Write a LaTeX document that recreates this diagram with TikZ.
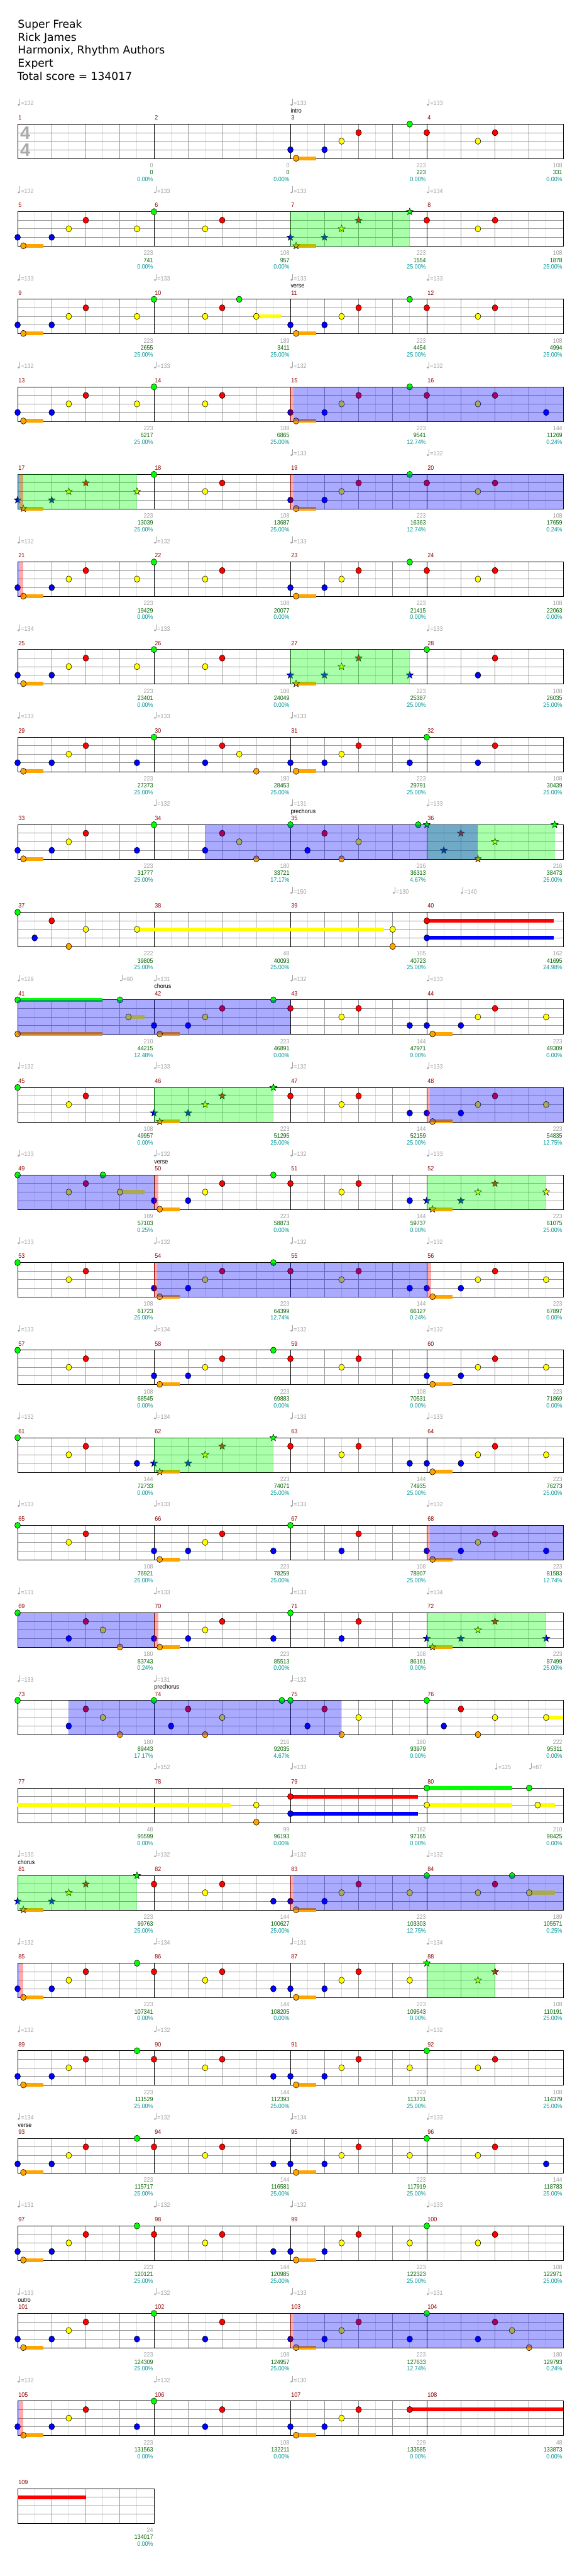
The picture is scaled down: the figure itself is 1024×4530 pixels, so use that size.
\documentclass[tikz,border=0pt]{standalone}
\usepackage{fontspec}
\setmainfont{DejaVu Sans}
\newfontfamily\smallfont[FakeStretch=0.9]{Liberation Sans}
\newfontfamily\tsfont{Liberation Sans}
\definecolor{ng}{RGB}{0,255,0}
\definecolor{nr}{RGB}{255,0,0}
\definecolor{ny}{RGB}{255,255,0}
\definecolor{nb}{RGB}{0,0,255}
\definecolor{nk}{RGB}{255,165,0}
\definecolor{gridlight}{RGB}{221,221,221}
\definecolor{griddark}{RGB}{150,150,150}
\definecolor{tempogray}{RGB}{160,160,160}
\definecolor{tsgray}{RGB}{170,170,170}
\definecolor{mred}{RGB}{139,0,0}
\definecolor{scgreen}{RGB}{0,100,0}
\definecolor{scteal}{RGB}{0,150,150}
\tikzset{txt/.style={inner sep=0pt,font=\smallfont\fontsize{11}{12}\selectfont},
 head/.style={anchor=base west,inner sep=0pt,font=\fontsize{19}{22}\selectfont}}
\def\offg{0}\def\offr{15}\def\offy{30}\def\offb{45}\def\offk{60}
\newcommand\setrow[1]{\pgfmathsetmacro\RT{218.3+154*#1}}
\newcommand\staffgrid[1]{%
 \pgfmathsetmacro\WW{240*#1}\pgfmathtruncatemacro\NB{4*#1}%
 \foreach \i in {1,...,\NB}{\draw[gridlight] ({31+60*\i-30},\RT) -- ++(0,60.7);}%
 \foreach \o in {15,30,45}{\draw[griddark] (31,{\RT+\o}) -- ++(\WW,0);}%
 \foreach \i in {1,...,\NB}{\draw[griddark] ({31+60*\i},\RT) -- ++(0,60.7);}%
 \foreach \i in {1,...,#1}{\draw[black] ({31+240*\i},\RT) -- ++(0,60.7);}%
 \draw[black] (31,\RT) rectangle ++(\WW,60.7);}
\newcommand\nt[2]{\pgfmathsetmacro\NX{31+60*(#1)}\pgfmathsetmacro\NY{\RT+\csname off#2\endcsname}%
 \filldraw[fill=n#2,draw=black,line width=0.6pt] (\NX,\NY) ellipse (5 and 5.5);}
\newcommand\nst[2]{\pgfmathsetmacro\NX{31+60*(#1)}\pgfmathsetmacro\NY{\RT+\csname off#2\endcsname}%
 \filldraw[fill=n#2,draw=black,line width=0.6pt,shift={(\NX,\NY)}] (270:6.5)--(306:2.7)--(342:6.5)--(18:2.7)--(54:6.5)--(90:2.7)--(126:6.5)--(162:2.7)--(198:6.5)--(234:2.7)--cycle;}
\newcommand\susb[3]{\pgfmathsetmacro\NY{\RT+\csname off#3\endcsname}%
 \fill[n#3] ({31+60*(#1)},{\NY-3.4}) rectangle ({31+60*(#2)},{\NY+3.4});}
\newcommand\kick[1]{\pgfmathsetmacro\KX{31+60*(#1)}\fill[nk] ({\KX+10},{\RT+56.7}) rectangle ({\KX+45},{\RT+63.4});\nt{#1+1/6}{k}}
\newcommand\kickst[1]{\pgfmathsetmacro\KX{31+60*(#1)}\fill[nk] ({\KX+10},{\RT+56.7}) rectangle ({\KX+45},{\RT+63.4});\nst{#1+1/6}{k}}
\newcommand\Aa[1]{\nt{#1}{b}\kick{#1}\nt{#1+1}{b}\nt{#1+1.5}{y}\nt{#1+2}{r}}
\newcommand\As[1]{\nst{#1}{b}\kickst{#1}\nst{#1+1}{b}\nst{#1+1.5}{y}\nst{#1+2}{r}}
\newcommand\PA[1]{\Aa{#1}\nt{#1+3.5}{y}\nt{#1+4}{g}\nt{#1+5.5}{y}\nt{#1+6}{r}}
\newcommand\PB[1]{\Aa{#1}\nt{#1+3.5}{g}\nt{#1+4}{r}\nt{#1+5.5}{y}\nt{#1+6}{r}}
\newcommand\greenov[2]{\fill[ng,fill opacity=0.333] ({31+60*(#1)},\RT) rectangle ({31+60*(#2)},{\RT+60.7});}
\newcommand\blueov[2]{\fill[nb,fill opacity=0.333] ({31+60*(#1)},\RT) rectangle ({31+60*(#2)},{\RT+60.7});}
\newcommand\actv[2]{\fill[nr,fill opacity=0.333] ({31+60*(#1)},\RT) rectangle ({31+60*(#1)+5},{\RT+60.7});
 \fill[nb,fill opacity=0.333] ({31+60*(#1)+5},\RT) rectangle ({31+60*(#2)},{\RT+60.7});
 \draw[mred,line width=1pt] ({31+60*(#1)},\RT) -- ++(0,60.7);}
\newcommand\rend[1]{\fill[nr,fill opacity=0.333] ({31+60*(#1)},\RT) rectangle ({31+60*(#1)+8},{\RT+60.7});}
\newcommand\contstrip{\fill[nb,fill opacity=0.333] (31,\RT) rectangle (33,{\RT+60.7});
 \fill[nr,fill opacity=0.333] (33,\RT) rectangle (41,{\RT+60.7});}
\newcommand\tempo[2]{\pgfmathsetmacro\TX{31+60*(#1)}%
 \fill[tempogray] ({\TX+1.8},{\RT-34}) ellipse (2.1 and 1.6);
 \draw[tempogray,line width=0.8pt] ({\TX+3.6},{\RT-34}) -- ++(0,-10.5);
 \node[txt,anchor=base west,text=tempogray] at ({\TX+5.5},{\RT-32.6}) {=#2};}
\newcommand\secl[2]{\node[txt,anchor=base west] at ({31+60*(#1)},{\RT-20}) {#2};}
\newcommand\mnums[2]{\foreach \i in {1,...,#2}{\pgfmathtruncatemacro\MM{#1+\i-1}%
 \node[txt,anchor=base west,text=mred] at ({31+240*(\i-1)+1},{\RT-7.5}) {\MM};}}
\newcommand\scores[4]{\pgfmathsetmacro\SX{31+240*(#1)-1}%
 \node[txt,anchor=base east,text=tempogray] at (\SX,{\RT+76.7}) {#2};
 \node[txt,anchor=base east,text=scgreen] at (\SX,{\RT+89}) {#3};
 \node[txt,anchor=base east,text=scteal] at (\SX,{\RT+101}) {#4};}
\begin{document}
\begin{tikzpicture}[x=1pt,y=-1pt,line width=1pt]
\useasboundingbox (0,0) rectangle (1024,4530);
\fill[white] (0,0) rectangle (1024,4530);
\node[head] (title) at (31,49) {Super Freak};
\node[head] (artist) at (31,72) {Rick James};
\node[head] (authors) at (31,95) {Harmonix, Rhythm Authors};
\node[head] (level) at (31,118) {Expert};
\node[head] (total) at (30,141) {Total score = 134017};
% Row 0
\setrow{0}\staffgrid{4}\mnums{1}{4}
\node[anchor=base west,inner sep=0pt,text=tsgray,font=\tsfont\bfseries\fontsize{32}{32}\selectfont] (tsa) at (35,{\RT+26.7}) {4};
\node[anchor=base west,inner sep=0pt,text=tsgray,font=\tsfont\bfseries\fontsize{32}{32}\selectfont] (tsb) at (35,{\RT+56.7}) {4};
\PB{8}
\tempo{0}{132}\tempo{8}{133}\tempo{12}{133}\secl{8}{intro}
\scores{1}{0}{0}{0.00\%}\scores{2}{0}{0}{0.00\%}\scores{3}{223}{223}{0.00\%}\scores{4}{108}{331}{0.00\%}
% Row 1
\setrow{1}\staffgrid{4}\mnums{5}{4}
\PA{0}\As{8}\nst{11.5}{g}\nt{12}{r}\nt{13.5}{y}\nt{14}{r}
\greenov{8}{11.5}
\tempo{0}{132}\tempo{4}{133}\tempo{8}{133}\tempo{12}{134}
\scores{1}{223}{741}{0.00\%}\scores{2}{108}{957}{0.00\%}\scores{3}{223}{1554}{25.00\%}\scores{4}{108}{1878}{25.00\%}
% Row 2
\setrow{2}\staffgrid{4}\mnums{9}{4}
\susb{7}{7.73}{y}
\PA{0}\nt{6.5}{g}\nt{7}{y}\PB{8}
\tempo{0}{133}\tempo{4}{133}\tempo{8}{133}\tempo{12}{133}\secl{8}{verse}
\scores{1}{223}{2655}{25.00\%}\scores{2}{189}{3411}{25.00\%}\scores{3}{223}{4454}{25.00\%}\scores{4}{108}{4994}{25.00\%}
% Row 3
\setrow{3}\staffgrid{4}\mnums{13}{4}
\PA{0}\PB{8}\nt{15.5}{b}
\actv{8}{16}
\tempo{0}{132}\tempo{4}{133}\tempo{8}{132}\tempo{12}{132}
\scores{1}{223}{6217}{25.00\%}\scores{2}{108}{6865}{25.00\%}\scores{3}{223}{9541}{12.74\%}\scores{4}{144}{11269}{0.24\%}
% Row 4
\setrow{4}\staffgrid{4}\mnums{17}{4}
\As{0}\nst{3.5}{y}\nt{4}{g}\nt{5.5}{y}\nt{6}{r}\PB{8}
\greenov{0}{3.5}\contstrip\actv{8}{16}
\tempo{8}{133}\tempo{12}{132}
\scores{1}{223}{13039}{25.00\%}\scores{2}{108}{13687}{25.00\%}\scores{3}{223}{16363}{12.74\%}\scores{4}{108}{17659}{0.24\%}
% Row 5
\setrow{5}\staffgrid{4}\mnums{21}{4}
\PA{0}\PB{8}
\contstrip
\tempo{0}{132}\tempo{4}{132}\tempo{8}{133}
\scores{1}{223}{19429}{0.00\%}\scores{2}{108}{20077}{0.00\%}\scores{3}{223}{21415}{0.00\%}\scores{4}{108}{22063}{0.00\%}
% Row 6
\setrow{6}\staffgrid{4}\mnums{25}{4}
\PA{0}\As{8}\nst{11.5}{b}\nt{12}{g}\nt{13.5}{b}\nt{14}{r}
\greenov{8}{11.5}
\tempo{0}{134}\tempo{4}{133}\tempo{12}{133}
\scores{1}{223}{23401}{0.00\%}\scores{2}{108}{24049}{0.00\%}\scores{3}{223}{25387}{25.00\%}\scores{4}{108}{26035}{25.00\%}
% Row 7
\setrow{7}\staffgrid{4}\mnums{29}{4}
\Aa{0}\nt{3.5}{b}\nt{4}{g}\nt{5.5}{b}\nt{6}{r}\nt{6.5}{y}\nt{7}{k}
\Aa{8}\nt{11.5}{b}\nt{12}{g}\nt{13.5}{b}\nt{14}{r}
\tempo{0}{133}\tempo{4}{133}\tempo{8}{133}
\scores{1}{223}{27373}{25.00\%}\scores{2}{180}{28453}{25.00\%}\scores{3}{223}{29791}{25.00\%}\scores{4}{108}{30439}{25.00\%}
% Row 8
\setrow{8}\staffgrid{4}\mnums{33}{4}
\Aa{0}\nt{3.5}{b}\nt{4}{g}\nt{5.5}{b}\nt{6}{r}\nt{6.5}{y}\nt{7}{k}
\nt{8}{g}\nt{8.5}{b}\nt{9}{r}\nt{9.5}{k}\nt{10}{y}\nt{11.75}{g}
\nst{12}{g}\nst{12.5}{b}\nst{13}{r}\nst{13.5}{k}\nst{14}{y}\nst{15.75}{g}
\greenov{12}{15.75}\blueov{5.5}{13.5}
\tempo{4}{132}\tempo{8}{131}\tempo{12}{133}\secl{8}{prechorus}
\scores{1}{223}{31777}{25.00\%}\scores{2}{180}{33721}{17.17\%}\scores{3}{216}{36313}{4.67\%}\scores{4}{216}{38473}{25.00\%}
% Row 9
\setrow{9}\staffgrid{4}\mnums{37}{4}
\susb{3.5}{10.74}{y}\susb{12}{15.73}{r}\susb{12}{15.73}{b}
\nt{0}{g}\nt{0.5}{b}\nt{1}{r}\nt{1.5}{k}\nt{2}{y}\nt{3.5}{y}\nt{11}{y}\nt{11}{k}\nt{12}{r}\nt{12}{b}
\tempo{8}{150}\tempo{11}{130}\tempo{13}{140}
\scores{1}{222}{39805}{25.00\%}\scores{2}{48}{40093}{25.00\%}\scores{3}{105}{40723}{25.00\%}\scores{4}{162}{41695}{24.98\%}
% Row 10
\setrow{10}\staffgrid{4}\mnums{41}{4}
\susb{0}{2.49}{g}\susb{0}{2.49}{k}\susb{3.25}{3.73}{y}
\nt{0}{g}\nt{0}{k}\nt{3}{g}\nt{3.25}{y}\Aa{4}\nt{7.5}{g}\nt{8}{r}\nt{9.5}{y}\nt{10}{r}\nt{11.5}{b}\Aa{12}\nt{15.5}{y}
\blueov{0}{8}
\tempo{0}{129}\tempo{3}{90}\tempo{4}{131}\tempo{8}{132}\tempo{12}{133}\secl{4}{chorus}
\scores{1}{210}{44215}{12.48\%}\scores{2}{223}{46891}{0.00\%}\scores{3}{144}{47971}{0.00\%}\scores{4}{223}{49309}{0.00\%}
% Row 11
\setrow{11}\staffgrid{4}\mnums{45}{4}
\nt{0}{g}\nt{1.5}{y}\nt{2}{r}\As{4}\nst{7.5}{g}\nt{8}{r}\nt{9.5}{y}\nt{10}{r}\nt{11.5}{b}\Aa{12}\nt{15.5}{y}
\greenov{4}{7.5}\actv{12}{16}
\tempo{0}{132}\tempo{4}{133}\tempo{8}{132}\tempo{12}{133}
\scores{1}{108}{49957}{0.00\%}\scores{2}{223}{51295}{25.00\%}\scores{3}{144}{52159}{25.00\%}\scores{4}{223}{54835}{12.75\%}
% Row 12
\setrow{12}\staffgrid{4}\mnums{49}{4}
\susb{3}{3.73}{y}
\nt{0}{g}\nt{1.5}{y}\nt{2}{r}\nt{2.5}{g}\nt{3}{y}\Aa{4}\nt{7.5}{g}\nt{8}{r}\nt{9.5}{y}\nt{10}{r}\nt{11.5}{b}\As{12}\nst{15.5}{y}
\greenov{12}{15.5}\blueov{0}{4}\rend{4}
\tempo{0}{133}\tempo{4}{132}\tempo{8}{132}\tempo{12}{133}\secl{4}{verse}
\scores{1}{189}{57103}{0.25\%}\scores{2}{223}{58873}{0.00\%}\scores{3}{144}{59737}{0.00\%}\scores{4}{223}{61075}{25.00\%}
% Row 13
\setrow{13}\staffgrid{4}\mnums{53}{4}
\nt{0}{g}\nt{1.5}{y}\nt{2}{r}\Aa{4}\nt{7.5}{g}\nt{8}{r}\nt{9.5}{y}\nt{10}{r}\nt{11.5}{b}\Aa{12}\nt{15.5}{y}
\actv{4}{12}\rend{12}
\tempo{0}{133}\tempo{4}{132}\tempo{8}{132}\tempo{12}{132}
\scores{1}{108}{61723}{25.00\%}\scores{2}{223}{64399}{12.74\%}\scores{3}{144}{66127}{0.24\%}\scores{4}{223}{67897}{0.00\%}
% Row 14
\setrow{14}\staffgrid{4}\mnums{57}{4}
\nt{0}{g}\nt{1.5}{y}\nt{2}{r}\Aa{4}\nt{7.5}{g}\nt{8}{r}\nt{9.5}{y}\nt{10}{r}\Aa{12}\nt{15.5}{y}
\tempo{0}{133}\tempo{4}{134}\tempo{8}{132}\tempo{12}{132}
\scores{1}{108}{68545}{0.00\%}\scores{2}{223}{69883}{0.00\%}\scores{3}{108}{70531}{0.00\%}\scores{4}{223}{71869}{0.00\%}
% Row 15
\setrow{15}\staffgrid{4}\mnums{61}{4}
\nt{0}{g}\nt{1.5}{y}\nt{2}{r}\nt{3.5}{b}\As{4}\nst{7.5}{g}\nt{8}{r}\nt{9.5}{y}\nt{10}{r}\nt{11.5}{b}\Aa{12}\nt{15.5}{y}
\greenov{4}{7.5}
\tempo{0}{132}\tempo{4}{134}\tempo{8}{133}\tempo{12}{133}
\scores{1}{144}{72733}{0.00\%}\scores{2}{223}{74071}{25.00\%}\scores{3}{144}{74935}{25.00\%}\scores{4}{223}{76273}{25.00\%}
% Row 16
\setrow{16}\staffgrid{4}\mnums{65}{4}
\nt{0}{g}\nt{1.5}{y}\nt{2}{r}\Aa{4}\nt{7.5}{b}\nt{8}{g}\nt{9.5}{b}\nt{10}{r}\Aa{12}\nt{15.5}{b}
\actv{12}{16}
\tempo{0}{133}\tempo{4}{133}\tempo{8}{133}\tempo{12}{132}
\scores{1}{108}{76921}{25.00\%}\scores{2}{223}{78259}{25.00\%}\scores{3}{108}{78907}{25.00\%}\scores{4}{223}{81583}{12.74\%}
% Row 17
\setrow{17}\staffgrid{4}\mnums{69}{4}
\nt{0}{g}\nt{1.5}{b}\nt{2}{r}\nt{2.5}{y}\nt{3}{k}\Aa{4}\nt{7.5}{b}\nt{8}{g}\nt{9.5}{b}\nt{10}{r}\As{12}\nst{15.5}{b}
\greenov{12}{15.5}\blueov{0}{4}\rend{4}
\tempo{0}{131}\tempo{4}{133}\tempo{8}{133}\tempo{12}{134}
\scores{1}{180}{83743}{0.24\%}\scores{2}{223}{85513}{0.00\%}\scores{3}{108}{86161}{0.00\%}\scores{4}{223}{87499}{25.00\%}
% Row 18
\setrow{18}\staffgrid{4}\mnums{73}{4}
\susb{15.5}{16}{y}
\nt{0}{g}\nt{1.5}{b}\nt{2}{r}\nt{2.5}{y}\nt{3}{k}\nt{4}{g}\nt{4.5}{b}\nt{5}{r}\nt{5.5}{k}\nt{6}{y}\nt{7.75}{g}
\nt{8}{g}\nt{8.5}{b}\nt{9}{r}\nt{9.5}{k}\nt{10}{y}\nt{12}{g}\nt{12.5}{b}\nt{13}{r}\nt{13.5}{k}\nt{14}{y}\nt{15.5}{y}
\blueov{1.5}{9.5}
\tempo{0}{133}\tempo{4}{131}\tempo{8}{132}\secl{4}{prechorus}
\scores{1}{180}{89443}{17.17\%}\scores{2}{216}{92035}{4.67\%}\scores{3}{180}{93979}{0.00\%}\scores{4}{222}{95311}{0.00\%}
% Row 19
\setrow{19}\staffgrid{4}\mnums{77}{4}
\susb{0}{6.24}{y}\susb{8}{11.75}{r}\susb{8}{11.75}{b}\susb{12}{14.5}{g}\susb{12}{14.5}{y}\susb{15.25}{15.75}{y}
\nt{7}{y}\nt{7}{k}\nt{8}{r}\nt{8}{b}\nt{12}{g}\nt{12}{y}\nt{15}{g}\nt{15.25}{y}
\tempo{4}{152}\tempo{8}{133}\tempo{14}{125}\tempo{15}{87}
\scores{1}{48}{95599}{0.00\%}\scores{2}{99}{96193}{0.00\%}\scores{3}{162}{97165}{0.00\%}\scores{4}{210}{98425}{0.00\%}
% Row 20
\setrow{20}\staffgrid{4}\mnums{81}{4}
\susb{15}{15.75}{y}
\As{0}\nst{3.5}{g}\nt{4}{r}\nt{5.5}{y}\nt{6}{r}\nt{7.5}{b}\Aa{8}\nt{11.5}{y}\nt{12}{g}\nt{13.5}{y}\nt{14}{r}\nt{14.5}{g}\nt{15}{y}
\greenov{0}{3.5}\actv{8}{16}
\tempo{0}{130}\tempo{4}{132}\tempo{8}{132}\tempo{12}{132}\secl{0}{chorus}
\scores{1}{223}{99763}{25.00\%}\scores{2}{144}{100627}{25.00\%}\scores{3}{223}{103303}{12.75\%}\scores{4}{189}{105571}{0.25\%}
% Row 21
\setrow{21}\staffgrid{4}\mnums{85}{4}
\PB{0}\nt{7.5}{b}\Aa{8}\nt{11.5}{y}\nst{12}{g}\nst{13.5}{y}\nst{14}{r}
\greenov{12}{14}\contstrip
\tempo{0}{132}\tempo{4}{134}\tempo{8}{131}\tempo{12}{134}
\scores{1}{223}{107341}{0.00\%}\scores{2}{144}{108205}{0.00\%}\scores{3}{223}{109543}{0.00\%}\scores{4}{108}{110191}{25.00\%}
% Row 22
\setrow{22}\staffgrid{4}\mnums{89}{4}
\PB{0}\nt{7.5}{b}\PA{8}
\tempo{0}{132}\tempo{4}{132}\tempo{12}{132}
\scores{1}{223}{111529}{25.00\%}\scores{2}{144}{112393}{25.00\%}\scores{3}{223}{113731}{25.00\%}\scores{4}{108}{114379}{25.00\%}
% Row 23
\setrow{23}\staffgrid{4}\mnums{93}{4}
\PB{0}\nt{7.5}{b}\PA{8}\nt{15.5}{b}
\tempo{0}{134}\tempo{4}{132}\tempo{8}{134}\tempo{12}{133}\secl{0}{verse}
\scores{1}{223}{115717}{25.00\%}\scores{2}{144}{116581}{25.00\%}\scores{3}{223}{117919}{25.00\%}\scores{4}{144}{118783}{25.00\%}
% Row 24
\setrow{24}\staffgrid{4}\mnums{97}{4}
\PB{0}\nt{7.5}{b}\PA{8}
\tempo{0}{131}\tempo{4}{132}\tempo{8}{132}\tempo{12}{133}
\scores{1}{223}{120121}{25.00\%}\scores{2}{144}{120985}{25.00\%}\scores{3}{223}{122323}{25.00\%}\scores{4}{108}{122971}{25.00\%}
% Row 25
\setrow{25}\staffgrid{4}\mnums{101}{4}
\Aa{0}\nt{3.5}{b}\nt{4}{g}\nt{5.5}{b}\nt{6}{r}\Aa{8}\nt{11.5}{b}\nt{12}{g}\nt{13.5}{b}\nt{14}{r}\nt{14.5}{y}\nt{15}{k}
\actv{8}{16}
\tempo{0}{133}\tempo{4}{132}\tempo{8}{133}\tempo{12}{131}\secl{0}{outro}
\scores{1}{223}{124309}{25.00\%}\scores{2}{108}{124957}{25.00\%}\scores{3}{223}{127633}{12.74\%}\scores{4}{180}{129793}{0.24\%}
% Row 26
\setrow{26}\staffgrid{4}\mnums{105}{4}
\susb{11.5}{16}{r}
\Aa{0}\nt{3.5}{b}\nt{4}{g}\nt{5.5}{b}\nt{6}{r}\Aa{8}\nt{11.5}{r}
\contstrip
\tempo{0}{132}\tempo{4}{132}\tempo{8}{130}
\scores{1}{223}{131563}{0.00\%}\scores{2}{108}{132211}{0.00\%}\scores{3}{229}{133585}{0.00\%}\scores{4}{48}{133873}{0.00\%}
% Row 27
\setrow{27}\staffgrid{1}\mnums{109}{1}
\susb{0}{2}{r}
\scores{1}{24}{134017}{0.00\%}
\end{tikzpicture}
\end{document}
